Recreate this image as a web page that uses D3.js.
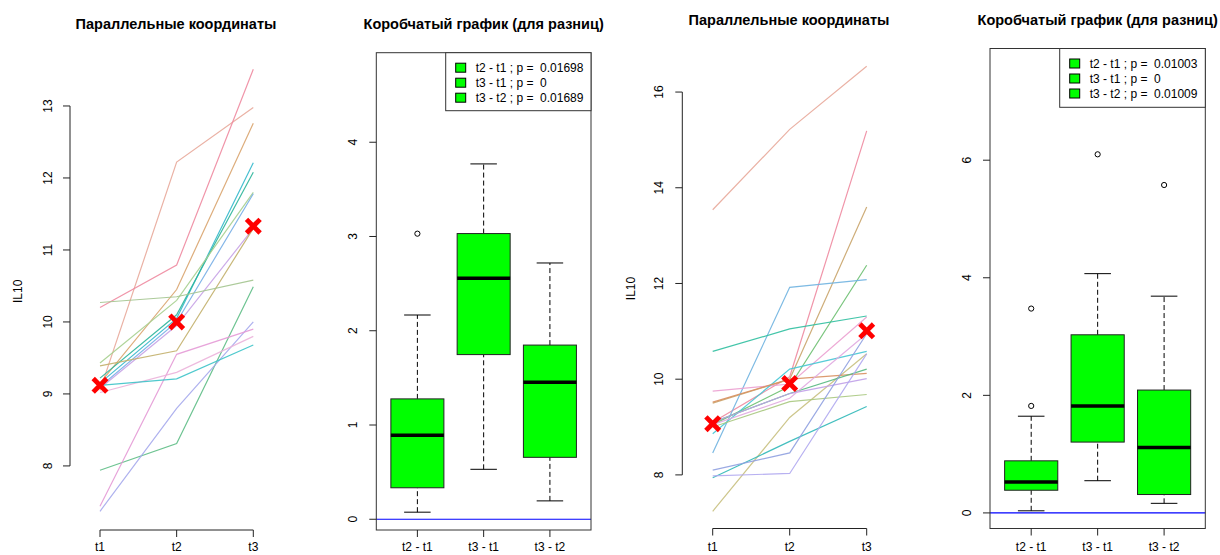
<!DOCTYPE html>
<html>
<head>
<meta charset="utf-8">
<script src="https://cdn.jsdelivr.net/npm/d3@7"></script>
<style>
  body { margin: 0; background: #fff; }
  text { font-family: "Liberation Sans", Arial, sans-serif; fill: #000; }
  .title { font-weight: bold; font-size: 14.5px; }
  .tick-lab { font-size: 12px; }
  .legend-lab { font-size: 12px; white-space: pre; }
</style>
</head>
<body>
<svg id="chart" width="1220" height="555"></svg>
<script>
const times = ['t1', 't2', 't3'];
const diffLabels = ['t2 - t1', 't3 - t1', 't3 - t2'];

// left pair: parallel coordinates
const leftLines = [
  [9.05, 12.22, 12.98],
  [10.20, 10.79, 13.51],
  [9.15, 10.45, 12.76],
  [9.15, 10.05, 12.21],
  [9.22, 10.10, 12.08],
  [9.43, 10.30, 11.80],
  [9.10, 10.00, 11.78],
  [9.08, 9.95, 11.30],
  [9.39, 9.60, 11.30],
  [10.27, 10.35, 10.58],
  [7.94, 8.31, 10.49],
  [7.37, 8.80, 10.00],
  [7.44, 9.55, 9.90],
  [9.02, 9.30, 9.80],
  [9.12, 9.21, 9.68]
];
const leftColors = ['#e8a89a', '#ee8aa0', '#d9a46e', '#33b8cc', '#2bb59a', '#a6cf8e', '#77aee6',
  '#c7a2e6', '#c2af6a', '#a3c48e', '#5dbd85', '#a5a8ec', '#e49ad6', '#ebb2da', '#3cc3c8'];
const leftMeans = [9.12, 10.0, 11.33];
const leftTicks = [8, 9, 10, 11, 12, 13];

// left pair: boxplot of differences  [lower whisker, q1, median, q3, upper whisker]
const leftBoxStats = [
  [0.075, 0.334, 0.89, 1.277, 2.167],
  [0.53, 1.747, 2.558, 3.031, 3.77],
  [0.195, 0.657, 1.453, 1.848, 2.719]
];
const leftOutliers = [[3.03], [], []];
const leftPvalues = ['0.01698', '0', '0.01689'];
const leftBoxTicks = [0, 1, 2, 3, 4];

// right pair: parallel coordinates
const rightLines = [
  [13.54, 15.22, 16.54],
  [9.10, 10.05, 15.19],
  [9.50, 10.00, 13.60],
  [9.05, 9.85, 12.38],
  [8.46, 11.92, 12.08],
  [10.58, 11.05, 11.32],
  [9.75, 9.90, 11.30],
  [8.86, 10.21, 10.58],
  [7.24, 9.20, 10.53],
  [9.52, 10.00, 10.12],
  [9.10, 9.70, 10.21],
  [9.10, 9.70, 10.01],
  [9.00, 9.53, 9.68],
  [7.94, 8.70, 9.43],
  [7.98, 8.03, 10.53],
  [8.10, 8.46, 10.95],
  [9.05, 9.60, 10.95]
];
const rightColors = ['#e8a89a', '#ee8aa0', '#c9a46a', '#6cbf70', '#6fb3e0', '#2fbfa0', '#eba0d0',
  '#45c6d4', '#c8c080', '#d89060', '#55b880', '#c0a0e8', '#a8c880', '#30b8b8', '#b0a8f0',
  '#8fa0e0', '#e0a8e0'];
const rightMeans = [9.07, 9.91, 11.01];
const rightTicks = [8, 10, 12, 14, 16];

// right pair: boxplot of differences
const rightBoxStats = [
  [0.036, 0.386, 0.524, 0.886, 1.645],
  [0.548, 1.205, 1.82, 3.03, 4.07],
  [0.163, 0.313, 1.114, 2.09, 3.687]
];
const rightOutliers = [[1.82, 3.476], [6.10], [5.578]];
const rightPvalues = ['0.01003', '0', '0.01009'];
const rightBoxTicks = [0, 2, 4, 6];

const svg = d3.select('#chart');
const AXIS = '#222';

function rotatedYLabels(g, scale, ticks, axisX, offset) {
  g.append('line')
    .attr('x1', axisX).attr('x2', axisX)
    .attr('y1', scale(ticks[0])).attr('y2', scale(ticks[ticks.length - 1]))
    .attr('stroke', AXIS);
  const t = g.selectAll(null).data(ticks).enter().append('g')
    .attr('transform', d => `translate(${axisX},${scale(d)})`);
  t.append('line').attr('x1', 0).attr('x2', -7).attr('stroke', AXIS);
  t.append('text')
    .classed('tick-lab', true)
    .attr('text-anchor', 'middle')
    .attr('transform', `translate(${-offset},0) rotate(-90)`)
    .text(d => d);
}

function drawParallel(cfg) {
  const g = svg.append('g');
  const x = d3.scalePoint().domain(times).range(cfg.xRange);
  const y = d3.scaleLinear().domain(cfg.yDomain).range(cfg.yRange);

  const line = d3.line().x((d, i) => x(times[i])).y(d => y(d));
  g.selectAll('.pc-line')
    .data(cfg.lines)
    .enter()
    .append('path')
      .classed('pc-line', true)
      .attr('d', line)
      .attr('fill', 'none')
      .attr('stroke', (d, i) => cfg.colors[i])
      .attr('stroke-width', 1.2)
      .attr('opacity', 0.9);

  // mean markers
  g.selectAll('.mean')
    .data(cfg.means)
    .enter()
    .append('path')
      .classed('mean', true)
      .attr('transform', (d, i) => `translate(${x(times[i])},${y(d)})`)
      .attr('d', 'M-6.8,-6.8L6.8,6.8M-6.8,6.8L6.8,-6.8')
      .attr('stroke', '#ff0000')
      .attr('stroke-width', 4.8);

  // x axis
  const xa = g.append('g');
  xa.append('line')
    .attr('x1', cfg.xRange[0]).attr('x2', cfg.xRange[1])
    .attr('y1', cfg.axisY).attr('y2', cfg.axisY)
    .attr('stroke', AXIS);
  const xt = xa.selectAll(null).data(times).enter().append('g')
    .attr('transform', d => `translate(${x(d)},${cfg.axisY})`);
  xt.append('line').attr('y1', 0).attr('y2', 7).attr('stroke', AXIS);
  xt.append('text').classed('tick-lab', true)
    .attr('text-anchor', 'middle').attr('y', 551 - cfg.axisY).text(d => d);

  rotatedYLabels(g.append('g'), y, cfg.ticks, cfg.axisX, cfg.labOffset);

  g.append('text')
    .classed('tick-lab', true)
    .attr('text-anchor', 'middle')
    .attr('transform', `translate(${cfg.ylabX},${(cfg.yRange[0] + cfg.yRange[1]) / 2}) rotate(-90)`)
    .text('IL10');

  g.append('text').classed('title', true)
    .attr('x', cfg.titleX).attr('y', cfg.titleY)
    .attr('text-anchor', 'middle')
    .text('Параллельные координаты');
}

function drawBoxes(cfg) {
  const g = svg.append('g');
  const [fx0, fx1] = cfg.frameX;
  const [fy0, fy1] = cfg.frameY;
  const x = d3.scaleLinear().domain([0.38, 3.62]).range([fx0, fx1]);
  const y = d3.scaleLinear().domain(cfg.yDomain).range([fy1, fy0]);
  const bw = x(0.8) - x(0);

  g.append('line')
    .attr('x1', fx0).attr('x2', fx1)
    .attr('y1', y(0)).attr('y2', y(0))
    .attr('stroke', '#0000ff').attr('stroke-width', 1.2);

  const box = g.selectAll('.box')
    .data(cfg.stats)
    .enter()
    .append('g')
      .classed('box', true)
      .attr('transform', (d, i) => `translate(${x(i + 1)},0)`);

  box.append('line')
    .attr('y1', d => y(d[0])).attr('y2', d => y(d[1]))
    .attr('stroke', '#000').attr('stroke-dasharray', '5,3');
  box.append('line')
    .attr('y1', d => y(d[3])).attr('y2', d => y(d[4]))
    .attr('stroke', '#000').attr('stroke-dasharray', '5,3');
  box.append('line')
    .attr('x1', -bw / 4).attr('x2', bw / 4)
    .attr('y1', d => y(d[0])).attr('y2', d => y(d[0]))
    .attr('stroke', '#000');
  box.append('line')
    .attr('x1', -bw / 4).attr('x2', bw / 4)
    .attr('y1', d => y(d[4])).attr('y2', d => y(d[4]))
    .attr('stroke', '#000');
  box.append('rect')
    .attr('x', -bw / 2).attr('width', bw)
    .attr('y', d => y(d[3]))
    .attr('height', d => y(d[1]) - y(d[3]))
    .attr('fill', '#00ff00')
    .attr('stroke', '#222');
  box.append('line')
    .attr('x1', -bw / 2).attr('x2', bw / 2)
    .attr('y1', d => y(d[2])).attr('y2', d => y(d[2]))
    .attr('stroke', '#000').attr('stroke-width', 3.5);

  box.selectAll('circle')
    .data((d, i) => cfg.outliers[i])
    .enter()
    .append('circle')
      .attr('cy', d => y(d))
      .attr('r', 2.6)
      .attr('fill', 'none')
      .attr('stroke', '#000');

  g.append('rect')
    .attr('x', fx0).attr('y', fy0)
    .attr('width', fx1 - fx0).attr('height', fy1 - fy0)
    .attr('fill', 'none').attr('stroke', '#333');

  // x axis ticks and labels
  const xt = g.selectAll('.xt').data(diffLabels).enter().append('g')
    .attr('transform', (d, i) => `translate(${x(i + 1)},${fy1})`);
  xt.append('line').attr('y1', 0).attr('y2', 7).attr('stroke', AXIS);
  xt.append('text').classed('tick-lab', true)
    .attr('text-anchor', 'middle').attr('y', 551 - fy1).text(d => d);

  // y axis
  const ya = g.append('g');
  const yt = ya.selectAll(null).data(cfg.ticks).enter().append('g')
    .attr('transform', d => `translate(${fx0},${y(d)})`);
  yt.append('line').attr('x1', 0).attr('x2', -7).attr('stroke', AXIS);
  yt.append('text').classed('tick-lab', true)
    .attr('text-anchor', 'middle')
    .attr('transform', 'translate(-19,0) rotate(-90)')
    .text(d => d);

  // legend
  const lg = g.append('g');
  lg.append('rect')
    .attr('x', cfg.legendX).attr('y', fy0)
    .attr('width', fx1 - cfg.legendX).attr('height', cfg.legendH)
    .attr('fill', '#fff').attr('stroke', '#333');
  const row = lg.selectAll('.row')
    .data(diffLabels)
    .enter()
    .append('g')
      .attr('transform', (d, i) => `translate(${cfg.legendX},${fy0 + 15 + i * 15})`);
  row.append('rect')
    .attr('x', 10).attr('y', -4.5).attr('width', 10).attr('height', 9)
    .attr('fill', '#00ff00').attr('stroke', '#000');
  row.append('text').classed('legend-lab', true)
    .attr('x', 30).attr('y', 4.5)
    .text((d, i) => `${d} ; p =  ${cfg.pvalues[i]}`);

  g.append('text').classed('title', true)
    .attr('x', (fx0 + fx1) / 2).attr('y', cfg.titleY)
    .attr('text-anchor', 'middle')
    .text('Коробчатый график (для разниц)');
}

drawParallel({
  lines: leftLines, colors: leftColors, means: leftMeans, ticks: leftTicks,
  xRange: [100, 253.3], yDomain: [7.11, 13.74], yRange: [530, 52.7],
  axisX: 70, axisY: 530, labOffset: 18, ylabX: 22, titleX: 176, titleY: 29
});
drawBoxes({
  stats: leftBoxStats, outliers: leftOutliers, pvalues: leftPvalues, ticks: leftBoxTicks,
  frameX: [376.3, 591], frameY: [52.7, 530], yDomain: [-0.114, 4.95],
  legendX: 445.7, legendH: 58, titleY: 29
});
drawParallel({
  lines: rightLines, colors: rightColors, means: rightMeans, ticks: rightTicks,
  xRange: [712.7, 866.7], yDomain: [6.88, 16.91], yRange: [528.5, 48.5],
  axisX: 682.3, axisY: 528.5, labOffset: 19, ylabX: 635, titleX: 789, titleY: 25
});
drawBoxes({
  stats: rightBoxStats, outliers: rightOutliers, pvalues: rightPvalues, ticks: rightBoxTicks,
  frameX: [990, 1205.3], frameY: [48.5, 528.5], yDomain: [-0.265, 7.90],
  legendX: 1059.7, legendH: 58.8, titleY: 25
});
</script>
</body>
</html>
